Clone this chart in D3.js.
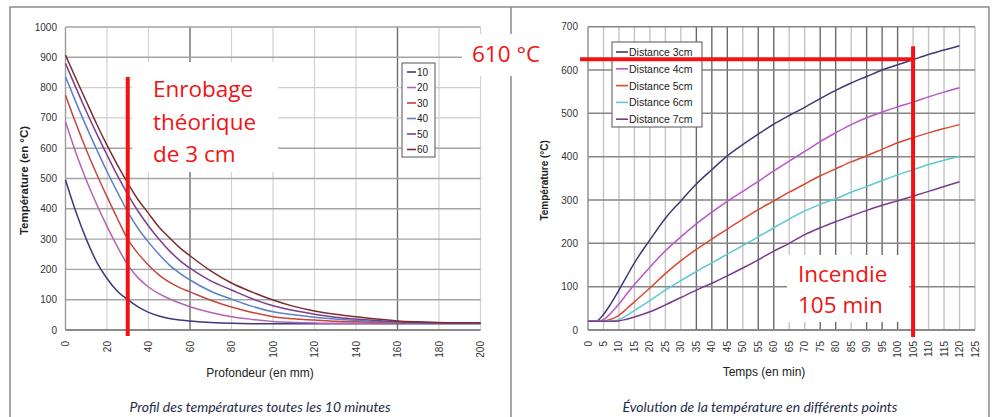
<!DOCTYPE html>
<html>
<head>
<meta charset="utf-8">
<script src="https://cdn.jsdelivr.net/npm/d3@7"></script>
<style>
    body { margin: 0; background: #fff; }
    svg { display: block; }
    .tick-label { font-family: "Liberation Sans", Arial, sans-serif; font-size: 10px; fill: #333; }
    .axis-title { font-family: "Liberation Sans", Arial, sans-serif; fill: #222; }
    .caption { font-family: Lato, sans-serif; font-style: italic; font-size: 14px; fill: #1f2b4a; }
    .note { font-family: "Open Sans", sans-serif; font-size: 22.5px; fill: #f01414; }
    .legend-label { font-family: "Liberation Sans", Arial, sans-serif; font-size: 10px; fill: #222; }
</style>
</head>
<body>
<svg width="999" height="417"></svg>
<script>
// left chart: temperature profile every 10 minutes
const depthMm = [0, 5, 10, 15, 20, 25, 30, 35, 40, 45, 50, 55, 60, 70, 80, 90, 100, 110, 120, 130, 140, 150, 160, 170, 180, 190, 200];
const profileMinutes = ['10', '20', '30', '40', '50', '60'];
const profile10 = [495, 390, 300, 225, 170, 128, 100, 76, 58, 46, 38, 33, 30, 25, 22, 21, 21, 21, 21, 21, 21, 21, 21, 21, 21, 21, 21];
const profile20 = [687, 585, 495, 415, 342, 275, 215, 172, 142, 120, 103, 89, 77, 58, 44, 35, 28, 25, 23, 22, 22, 22, 22, 22, 22, 22, 22];
const profile30 = [775, 682, 595, 515, 440, 368, 300, 252, 214, 182, 158, 140, 126, 98, 76, 58, 44, 37, 33, 29, 27, 25, 23, 22, 22, 22, 22];
const profile40 = [836, 752, 672, 596, 523, 455, 390, 335, 290, 250, 215, 188, 165, 128, 102, 78, 60, 50, 42, 36, 32, 28, 25, 23, 23, 23, 23];
const profile50 = [880, 800, 722, 648, 578, 510, 448, 392, 343, 300, 262, 230, 204, 162, 132, 103, 80, 64, 52, 42, 36, 31, 27, 25, 23, 23, 23];
const profile60 = [907, 830, 755, 680, 610, 545, 485, 430, 385, 340, 305, 272, 245, 195, 155, 125, 99, 78, 63, 52, 44, 36, 30, 27, 25, 24, 24];
const depthTicks = [0, 20, 40, 60, 80, 100, 120, 140, 160, 180, 200];
const profileTempTicks = [0, 100, 200, 300, 400, 500, 600, 700, 800, 900, 1000];

// right chart: temperature over time at several depths
const timeMin = [0, 2.5, 5, 7.5, 10, 12.5, 15, 20, 25, 30, 35, 40, 45, 50, 55, 60, 65, 70, 75, 80, 85, 90, 95, 100, 105, 110, 115, 120];
const distanceNames = ['Distance 3cm', 'Distance 4cm', 'Distance 5cm', 'Distance 6cm', 'Distance 7cm'];
const dist3 = [20, 20, 36, 62, 92, 124, 155, 208, 258, 298, 337, 370, 402, 428, 452, 475, 495, 514, 534, 553, 570, 585, 600, 612, 624, 636, 646, 656];
const dist4 = [20, 20, 24, 40, 60, 83, 105, 145, 183, 215, 245, 272, 297, 320, 343, 367, 390, 412, 435, 455, 474, 490, 503, 515, 526, 538, 549, 559];
const dist5 = [20, 20, 21, 25, 34, 49, 65, 97, 130, 160, 186, 210, 233, 256, 278, 298, 318, 337, 356, 372, 388, 402, 417, 432, 444, 455, 465, 474];
const dist6 = [20, 20, 20, 21, 24, 33, 45, 68, 92, 114, 135, 155, 175, 195, 215, 236, 256, 275, 290, 303, 318, 331, 345, 358, 370, 382, 392, 401];
const dist7 = [20, 20, 20, 20, 21, 25, 30, 42, 58, 75, 92, 108, 125, 143, 162, 182, 200, 220, 236, 250, 263, 276, 288, 298, 309, 320, 331, 342];
const timeTicks = d3.range(0, 130, 5);
const timeTempTicks = [0, 100, 200, 300, 400, 500, 600, 700];

// annotations
const coverMm = 30;
const fireMin = 105;
const fireTemp = 625;
const fireTempLabel = '610 °C';

const svg = d3.select('svg');
svg.append('rect').attr('width', 999).attr('height', 417).attr('fill', '#fff');

// panel frame
const frame = svg.append('g').attr('stroke', '#8a8a8a').attr('stroke-width', 1.5).attr('fill', 'none');
frame.append('path').attr('d', 'M10,417V7H989V417');
frame.append('path').attr('d', 'M511,7V417');

function rotatedXTicks(g, scale, ticks, y) {
    g.selectAll('text.xt')
        .data(ticks)
        .join('text')
        .attr('class', 'tick-label xt')
        .attr('transform', d => `translate(${scale(d) + 3.5},${y}) rotate(-90)`)
        .attr('text-anchor', 'end')
        .text(d => d);
}

function yTicks(g, scale, ticks, x) {
    g.selectAll('text.yt')
        .data(ticks)
        .join('text')
        .attr('class', 'tick-label yt')
        .attr('x', x)
        .attr('y', d => scale(d) + 3.5)
        .attr('text-anchor', 'end')
        .text(d => d);
}

/*
 * Left chart
 */

(function () {
    const x = d3.scaleLinear().domain([0, 200]).range([65.5, 480.5]);
    const y = d3.scaleLinear().domain([0, 1000]).range([330, 27]);
    const colour = d3.scaleOrdinal().domain(profileMinutes)
        .range(['#3a3a7c', '#b462b4', '#c4463c', '#5a80c8', '#7c3f8e', '#7a2e2e']);
    const darkX = [60, 160];
    const lightY = [700, 800];
    const g = svg.append('g');

    g.selectAll('line.gx')
        .data(depthTicks.slice(1))
        .join('line')
        .attr('x1', d => x(d)).attr('x2', d => x(d))
        .attr('y1', y(1000)).attr('y2', y(0))
        .attr('stroke', d => darkX.includes(d) ? '#6e6e6e' : '#d2d2d2')
        .attr('stroke-width', d => darkX.includes(d) ? 1.4 : 1.2);
    g.selectAll('line.gy')
        .data(profileTempTicks.slice(1))
        .join('line')
        .attr('x1', x(0)).attr('x2', x(200))
        .attr('y1', d => y(d)).attr('y2', d => y(d))
        .attr('stroke', d => lightY.includes(d) ? '#cfcfcf' : '#a4a4a4')
        .attr('stroke-width', 1.4);
    g.append('line').attr('x1', x(0)).attr('x2', x(0)).attr('y1', y(1000)).attr('y2', y(0))
        .attr('stroke', '#9a9a9a').attr('stroke-width', 1.4);
    g.append('line').attr('x1', x(0)).attr('x2', x(200)).attr('y1', y(0)).attr('y2', y(0))
        .attr('stroke', '#8a8a8a').attr('stroke-width', 1.8);

    yTicks(g, y, profileTempTicks, 57);
    rotatedXTicks(g, x, depthTicks, 341);

    g.append('text').attr('class', 'axis-title')
        .attr('transform', `translate(28,${(y(1000) + y(0)) / 2 + 2}) rotate(-90)`)
        .attr('text-anchor', 'middle')
        .style('font-size', '11.5px').style('font-weight', 'bold')
        .text('Température (en °C)');
    g.append('text').attr('class', 'axis-title')
        .attr('x', 260).attr('y', 377)
        .attr('text-anchor', 'middle')
        .style('font-size', '12px')
        .text('Profondeur (en mm)');

    const series = [profile10, profile20, profile30, profile40, profile50, profile60];
    const line = d3.line()
        .x((d, i) => x(depthMm[i]))
        .y(d => y(d))
        .curve(d3.curveMonotoneX);
    g.selectAll('path.curve')
        .data(series)
        .join('path')
        .attr('fill', 'none')
        .attr('stroke', (d, i) => colour(profileMinutes[i]))
        .attr('stroke-width', 1.5)
        .attr('d', line);

    // legend
    const legend = g.append('g').attr('transform', 'translate(402,63)');
    legend.append('rect').attr('width', 33).attr('height', 94)
        .attr('fill', '#fff').attr('stroke', '#707070').attr('stroke-width', 1.2);
    const items = legend.selectAll('g')
        .data(profileMinutes)
        .join('g')
        .attr('transform', (d, i) => `translate(0,${9 + i * 15.5})`);
    items.append('line').attr('x1', 5).attr('x2', 14)
        .attr('stroke', d => colour(d)).attr('stroke-width', 1.6);
    items.append('text').attr('class', 'legend-label')
        .attr('x', 15).attr('y', 3.5)
        .text(d => d);

    // red annotation
    g.append('rect').attr('x', 132).attr('y', 62).attr('width', 146).attr('height', 110).attr('fill', '#fff');
    g.append('line')
        .attr('x1', x(coverMm)).attr('x2', x(coverMm))
        .attr('y1', y(835)).attr('y2', y(0) + 6)
        .attr('stroke', '#f01414').attr('stroke-width', 4);
    const note = g.append('text').attr('class', 'note').attr('x', 153).attr('y', 97);
    ['Enrobage', 'théorique', 'de 3 cm'].forEach((t, i) => {
        note.append('tspan').attr('x', 153).attr('dy', i ? 32.5 : 0).text(t);
    });

    g.append('text').attr('class', 'caption')
        .attr('x', 260).attr('y', 412)
        .attr('text-anchor', 'middle')
        .text('Profil des températures toutes les 10 minutes');
}());

/*
 * Right chart
 */

(function () {
    const x = d3.scaleLinear().domain([0, 125]).range([588, 975]);
    const y = d3.scaleLinear().domain([0, 700]).range([330, 26.7]);
    const colour = d3.scaleOrdinal().domain(distanceNames)
        .range(['#3b3b78', '#b857c8', '#da4a30', '#5ccad0', '#7a3a8e']);
    const darkX = [35, 40, 45, 55, 60, 75, 80, 90, 95, 100];
    const g = svg.append('g');

    g.selectAll('line.gx')
        .data(timeTicks.slice(1))
        .join('line')
        .attr('x1', d => x(d)).attr('x2', d => x(d))
        .attr('y1', y(700)).attr('y2', y(0))
        .attr('stroke', d => darkX.includes(d) ? '#6a6a6a' : '#c4c4c4')
        .attr('stroke-width', 1.4);
    g.selectAll('line.gy')
        .data(timeTempTicks.slice(1))
        .join('line')
        .attr('x1', x(0)).attr('x2', x(125))
        .attr('y1', d => y(d)).attr('y2', d => y(d))
        .attr('stroke', '#858585')
        .attr('stroke-width', 1.5);
    g.append('line').attr('x1', x(0)).attr('x2', x(0)).attr('y1', y(700)).attr('y2', y(0))
        .attr('stroke', '#8a8a8a').attr('stroke-width', 1.4);
    g.append('line').attr('x1', x(0)).attr('x2', x(125)).attr('y1', y(0)).attr('y2', y(0))
        .attr('stroke', '#8a8a8a').attr('stroke-width', 1.8);

    yTicks(g, y, timeTempTicks, 578);
    rotatedXTicks(g, x, timeTicks, 341);

    g.append('text').attr('class', 'axis-title')
        .attr('transform', `translate(548,${(y(700) + y(0)) / 2 + 2}) rotate(-90)`)
        .attr('text-anchor', 'middle')
        .style('font-size', '10px').style('font-weight', 'bold')
        .text('Température (°C)');
    g.append('text').attr('class', 'axis-title')
        .attr('x', 764).attr('y', 376)
        .attr('text-anchor', 'middle')
        .style('font-size', '12px')
        .text('Temps (en min)');

    const series = [dist3, dist4, dist5, dist6, dist7];
    const line = d3.line()
        .x((d, i) => x(timeMin[i]))
        .y(d => y(d))
        .curve(d3.curveMonotoneX);
    g.selectAll('path.curve')
        .data(series)
        .join('path')
        .attr('fill', 'none')
        .attr('stroke', (d, i) => colour(distanceNames[i]))
        .attr('stroke-width', 1.5)
        .attr('d', line);

    // legend
    const legend = g.append('g').attr('transform', 'translate(612,42)');
    legend.append('rect').attr('width', 90).attr('height', 85)
        .attr('fill', '#fff').attr('stroke', '#707070').attr('stroke-width', 1.2);
    const items = legend.selectAll('g')
        .data(distanceNames)
        .join('g')
        .attr('transform', (d, i) => `translate(0,${10 + i * 16.8})`);
    items.append('line').attr('x1', 4).attr('x2', 16)
        .attr('stroke', d => colour(d)).attr('stroke-width', 1.6);
    items.append('text').attr('class', 'legend-label')
        .attr('x', 17).attr('y', 4)
        .style('font-size', '10.5px')
        .text(d => d);

    // red annotations
    svg.append('rect').attr('x', 462).attr('y', 34).attr('width', 88).attr('height', 42).attr('fill', '#fff');
    svg.append('text').attr('class', 'note')
        .attr('x', 472).attr('y', 62)
        .text(fireTempLabel);
    g.append('line')
        .attr('x1', x(0) - 8).attr('x2', x(fireMin) + 2)
        .attr('y1', y(fireTemp)).attr('y2', y(fireTemp))
        .attr('stroke', '#f01414').attr('stroke-width', 4);
    g.append('line')
        .attr('x1', x(fireMin)).attr('x2', x(fireMin))
        .attr('y1', y(655)).attr('y2', y(0) + 7)
        .attr('stroke', '#f01414').attr('stroke-width', 4);
    g.append('rect').attr('x', 787).attr('y', 255).attr('width', 122).attr('height', 67).attr('fill', '#fff');
    const note = g.append('text').attr('class', 'note').attr('x', 798).attr('y', 282);
    ['Incendie', `${fireMin} min`].forEach((t, i) => {
        note.append('tspan').attr('x', 798).attr('dy', i ? 31 : 0).text(t);
    });

    g.append('text').attr('class', 'caption')
        .attr('x', 760).attr('y', 412)
        .attr('text-anchor', 'middle')
        .text('Évolution de la température en différents points');
}());
</script>
</body>
</html>
